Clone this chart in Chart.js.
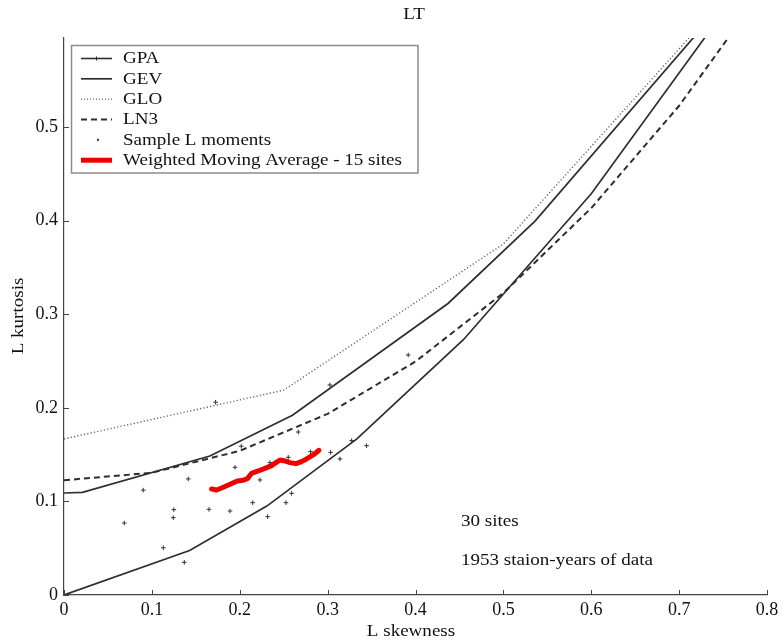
<!DOCTYPE html>
<html>
<head>
<meta charset="utf-8">
<script src="https://cdn.jsdelivr.net/npm/chart.js@4/dist/chart.umd.min.js"></script>
<style>
html,body{margin:0;padding:0;background:#fff;}
#wrap{width:784px;height:643px;position:relative;}
</style>
</head>
<body>
<div id="wrap"><canvas id="c" width="784" height="643"></canvas></div>
<script>
// ---- texts ----
const chartTitle = 'LT';
const xTitle = 'L skewness';
const yTitle = 'L kurtosis';
const noteLines = ['30 sites', '1953 staion-years of data'];

// ---- ticks ----
const xTicks = [0, 0.1, 0.2, 0.3, 0.4, 0.5, 0.6, 0.7, 0.8];
const xTickLabels = ['0', '0.1', '0.2', '0.3', '0.4', '0.5', '0.6', '0.7', '0.8'];
const yTicks = [0, 0.1, 0.2, 0.3, 0.4, 0.5];
const yTickLabels = ['0', '0.1', '0.2', '0.3', '0.4', '0.5'];

// ---- theoretical curves ----
const gpaX = [0, 0.1429, 0.2308, 0.3333, 0.4545, 0.6, 0.7778];
const gpaY = [0, 0.0476, 0.095, 0.1667, 0.2727, 0.4286, 0.6581];

const gevX = [-0.114, 0.021, 0.166, 0.26, 0.437, 0.536, 0.75];
const gevY = [0.1055, 0.1096, 0.1485, 0.192, 0.3114, 0.3994, 0.632];

const gloX = [0, 0.25, 0.5, 0.75];
const gloY = [0.1667, 0.2188, 0.375, 0.6354];

const ln3X = [0, 0.1, 0.2, 0.3, 0.4, 0.5, 0.6, 0.7, 0.8];
const ln3Y = [0.1226, 0.1306, 0.154, 0.1935, 0.2494, 0.3226, 0.4133, 0.5226, 0.6525];

// ---- sample L moments (sites) ----
const sampleX = [0.0686, 0.0902, 0.113, 0.125, 0.1244, 0.1369, 0.1414, 0.165, 0.1725, 0.1889,
                 0.1946, 0.2017, 0.2147, 0.223, 0.2317, 0.2344, 0.2526, 0.2552, 0.259, 0.2666,
                 0.2806, 0.3026, 0.3034, 0.314, 0.3273, 0.3443, 0.3917];
const sampleY = [0.0769, 0.112, 0.0505, 0.0912, 0.0826, 0.0349, 0.124, 0.0915, 0.2059, 0.0897,
                 0.1364, 0.1589, 0.0986, 0.1229, 0.0837, 0.1414, 0.0986, 0.1471, 0.1086, 0.1741,
                 0.1531, 0.2244, 0.1524, 0.1453, 0.1649, 0.1595, 0.2564];

// ---- weighted moving average (15 sites) ----
const wmaX = [0.168, 0.1737, 0.1813, 0.1889, 0.1972, 0.204, 0.209, 0.2135, 0.221, 0.2287,
              0.2362, 0.2412, 0.2457, 0.2514, 0.2571, 0.2639, 0.2703, 0.276, 0.2836, 0.2901];
const wmaY = [0.1132, 0.1122, 0.1151, 0.1183, 0.1218, 0.1225, 0.1246, 0.13, 0.1325, 0.1353,
              0.1382, 0.1414, 0.1442, 0.1432, 0.1414, 0.1403, 0.1425, 0.1453, 0.1496, 0.1546];

const legendNames = ['GPA', 'GEV', 'GLO', 'LN3', 'Sample L moments', 'Weighted Moving Average - 15 sites'];

// ---- helpers ----
const zip = (xs, ys) => xs.map((x, i) => ({x: x, y: ys[i]}));
const SERIF = '"Liberation Serif", "Times New Roman", Times, serif';
const LINE = '#2e2e2e';
const SX = 1.12; // horizontal text stretch seen in the picture
const TSIZE = 17;

function sText(ctx, text, x, y, size, align, rot) {
  ctx.save();
  ctx.font = size + 'px ' + SERIF;
  ctx.fillStyle = '#111';
  ctx.translate(x, y);
  if (rot) ctx.rotate(rot);
  ctx.scale(SX, 1);
  ctx.textAlign = align;
  ctx.textBaseline = 'middle';
  ctx.fillText(text, 0, 0);
  ctx.restore();
}

const decor = {
  id: 'decor',
  afterDraw(chart) {
    const ctx = chart.ctx;
    const xs = chart.scales.x, ys = chart.scales.y;
    const area = chart.chartArea;
    // inward tick marks
    ctx.save();
    ctx.strokeStyle = '#444';
    ctx.lineWidth = 1;
    ctx.beginPath();
    xTicks.forEach(v => {
      const p = Math.round(xs.getPixelForValue(v)) + 0.5;
      ctx.moveTo(p, area.bottom); ctx.lineTo(p, area.bottom - 5);
    });
    yTicks.forEach(v => {
      const p = Math.round(ys.getPixelForValue(v)) + 0.5;
      ctx.moveTo(area.left, p); ctx.lineTo(area.left + 5, p);
    });
    ctx.stroke();
    ctx.restore();

    // titles
    sText(ctx, chartTitle, 414, 15, TSIZE, 'center');
    sText(ctx, xTitle, 411, 632, TSIZE, 'center');
    sText(ctx, yTitle, 19, 316, TSIZE, 'center', -Math.PI / 2);

    // notes
    sText(ctx, noteLines[0], 461, 522, TSIZE, 'left');
    sText(ctx, noteLines[1], 461, 561, TSIZE, 'left');

    // legend
    const bx = 71.5, by = 45.5, bw = 346.5, bh = 127.5;
    ctx.save();
    ctx.fillStyle = '#fff';
    ctx.fillRect(bx, by, bw, bh);
    ctx.strokeStyle = '#8c8c8c';
    ctx.lineWidth = 1.5;
    ctx.strokeRect(bx, by, bw, bh);
    ctx.restore();
    const rows = [58.5, 78.8, 99.2, 119.5, 139.8, 160.2];
    const lx0 = 81, lx1 = 112, tx = 123;
    const drawSeg = (y, color, w, dash) => {
      ctx.save();
      ctx.strokeStyle = color; ctx.lineWidth = w; ctx.setLineDash(dash || []);
      ctx.beginPath(); ctx.moveTo(lx0, y); ctx.lineTo(lx1, y); ctx.stroke();
      ctx.restore();
    };
    drawSeg(rows[0], LINE, 1.6);
    ctx.save(); ctx.strokeStyle = LINE; ctx.lineWidth = 1;
    ctx.beginPath(); ctx.moveTo(96.5, rows[0] - 2); ctx.lineTo(96.5, rows[0] + 2); ctx.stroke(); ctx.restore();
    drawSeg(rows[1], LINE, 1.7);
    drawSeg(rows[2], '#666', 1.3, [1, 2]);
    drawSeg(rows[3], LINE, 2, [6, 4]);
    ctx.save(); ctx.fillStyle = '#333';
    ctx.fillRect(97, rows[4] - 1, 2, 2); ctx.restore();
    drawSeg(rows[5], '#ee0000', 5);
    legendNames.forEach((n, i) => sText(ctx, n, tx, rows[i] + 0.5, TSIZE, 'left'));
  }
};

const lineDs = (label, xs, ys, extra) => Object.assign({
  label: label,
  data: zip(xs, ys),
  showLine: true,
  borderColor: LINE,
  backgroundColor: LINE,
  borderWidth: 1.7,
  pointRadius: 0,
  pointHoverRadius: 0,
  tension: 0,
  fill: false
}, extra || {});

new Chart(document.getElementById('c'), {
  type: 'scatter',
  data: {
    datasets: [
      lineDs(legendNames[0], gpaX, gpaY),
      lineDs(legendNames[1], gevX, gevY),
      lineDs(legendNames[2], gloX, gloY, {borderColor: '#666', borderWidth: 1.4, borderDash: [1.2, 2.2]}),
      lineDs(legendNames[3], ln3X, ln3Y, {borderWidth: 2, borderDash: [6, 4]}),
      {
        label: legendNames[4],
        data: zip(sampleX, sampleY),
        showLine: false,
        pointStyle: 'cross',
        pointRadius: 2.3,
        pointBorderWidth: 1,
        borderColor: '#333',
        backgroundColor: '#333'
      },
      lineDs(legendNames[5], wmaX, wmaY, {borderColor: '#ee0000', borderWidth: 5, borderCapStyle: 'round', borderJoinStyle: 'round'})
    ]
  },
  options: {
    responsive: false,
    devicePixelRatio: 1,
    animation: false,
    events: [],
    layout: {padding: {left: 0, top: 38, right: 17, bottom: 0}},
    plugins: {legend: {display: false}, title: {display: false}, tooltip: {enabled: false}},
    scales: {
      x: {
        type: 'linear', min: 0, max: 0.8,
        afterBuildTicks: s => { s.ticks = xTicks.map(v => ({value: v})); },
        afterFit: s => { s.height = 48; },
        grid: {display: false, drawTicks: false},
        border: {display: true, color: '#444', width: 1.2},
        ticks: {
          padding: 4,
          color: '#111',
          font: {family: SERIF, size: 18},
          maxRotation: 0,
          autoSkip: false,
          callback: (v, i) => xTickLabels[i]
        }
      },
      y: {
        type: 'linear', min: 0, max: 0.595,
        afterBuildTicks: s => { s.ticks = yTicks.map(v => ({value: v})); },
        afterFit: s => { s.width = 64; },
        grid: {display: false, drawTicks: false},
        border: {display: true, color: '#444', width: 1.2},
        ticks: {
          padding: 6,
          color: '#111',
          font: {family: SERIF, size: 18},
          autoSkip: false,
          callback: (v, i) => yTickLabels[i]
        }
      }
    }
  },
  plugins: [decor]
});
</script>
</body>
</html>
